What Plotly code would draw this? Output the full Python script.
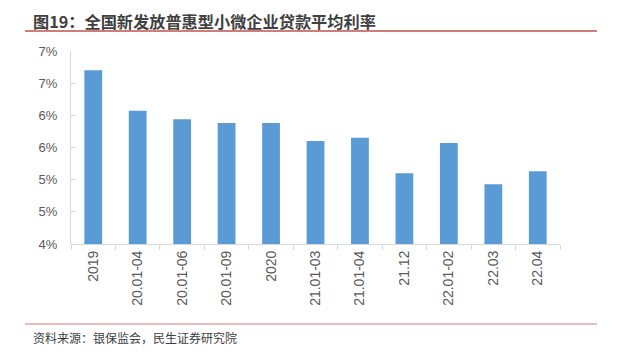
import plotly.graph_objects as go

categories = ["2019", "20.01-04", "20.01-06", "20.01-09", "2020", "21.01-03",
              "21.01-04", "21.12", "22.01-02", "22.03", "22.04"]
rates = [6.70, 6.07, 5.94, 5.88, 5.88, 5.60, 5.65, 5.10, 5.57, 4.93, 5.13]
y_tick_values = [4.0, 4.5, 5.0, 5.5, 6.0, 6.5, 7.0]
y_tick_labels = ["4%", "5%", "5%", "6%", "6%", "7%", "7%"]
title_text = "图19：全国新发放普惠型小微企业贷款平均利率"
source_text = "资料来源：银保监会，民生证券研究院"

W, H = 624, 352
ml, mr, mt, mb = 71, 64, 51, 108
pw = W - ml - mr
ph = H - mt - mb

def px(x):
    return (x - ml) / pw

def py(y):
    return (H - mb - y) / ph

font_cjk = "Noto Sans CJK SC"
font_lat = "Liberation Sans, Arial"

fig = go.Figure()
fig.add_trace(go.Bar(x=categories, y=rates, marker=dict(color="#5b9bd5", line=dict(width=0))))

fig.update_layout(
    width=W, height=H,
    margin=dict(l=ml, r=mr, t=mt, b=mb),
    paper_bgcolor="white", plot_bgcolor="white",
    bargap=0.6, showlegend=False,
    font=dict(family=font_lat, color="#595959", size=13),
    xaxis=dict(type="category", showline=True, linecolor="#d9d9d9", linewidth=1,
               ticks="outside", tickson="boundaries", ticklen=5, tickcolor="#d9d9d9",
               tickangle=-90, tickfont=dict(size=14, color="#595959", family=font_lat),
               showgrid=False),
    yaxis=dict(range=[4, 7], tickvals=y_tick_values, ticktext=y_tick_labels,
               showline=True, linecolor="#d9d9d9", linewidth=1,
               ticks="inside", ticklen=5, tickcolor="#d9d9d9", showgrid=False,
               zeroline=False, ticklabelstandoff=10,
               tickfont=dict(size=13, color="#595959", family=font_lat)),
)

fig.add_annotation(text="<b>" + title_text + "</b>", xref="paper", yref="paper",
                   x=px(31), y=py(21), xanchor="left", yanchor="middle", showarrow=False,
                   font=dict(size=16.2, color="#404040", family=font_cjk))
fig.add_annotation(text=source_text, xref="paper", yref="paper",
                   x=px(31), y=py(337), xanchor="left", yanchor="middle", showarrow=False,
                   font=dict(size=12, color="#404040", family=font_cjk))
fig.add_shape(type="line", xref="paper", yref="paper", x0=px(25), x1=px(597),
              y0=py(31), y1=py(31), line=dict(color="#c0504d", width=1.3))
fig.add_shape(type="line", xref="paper", yref="paper", x0=px(25), x1=px(597),
              y0=py(324), y1=py(324), line=dict(color="#e6a3a3", width=1.3))

fig.write_html("out.html")
